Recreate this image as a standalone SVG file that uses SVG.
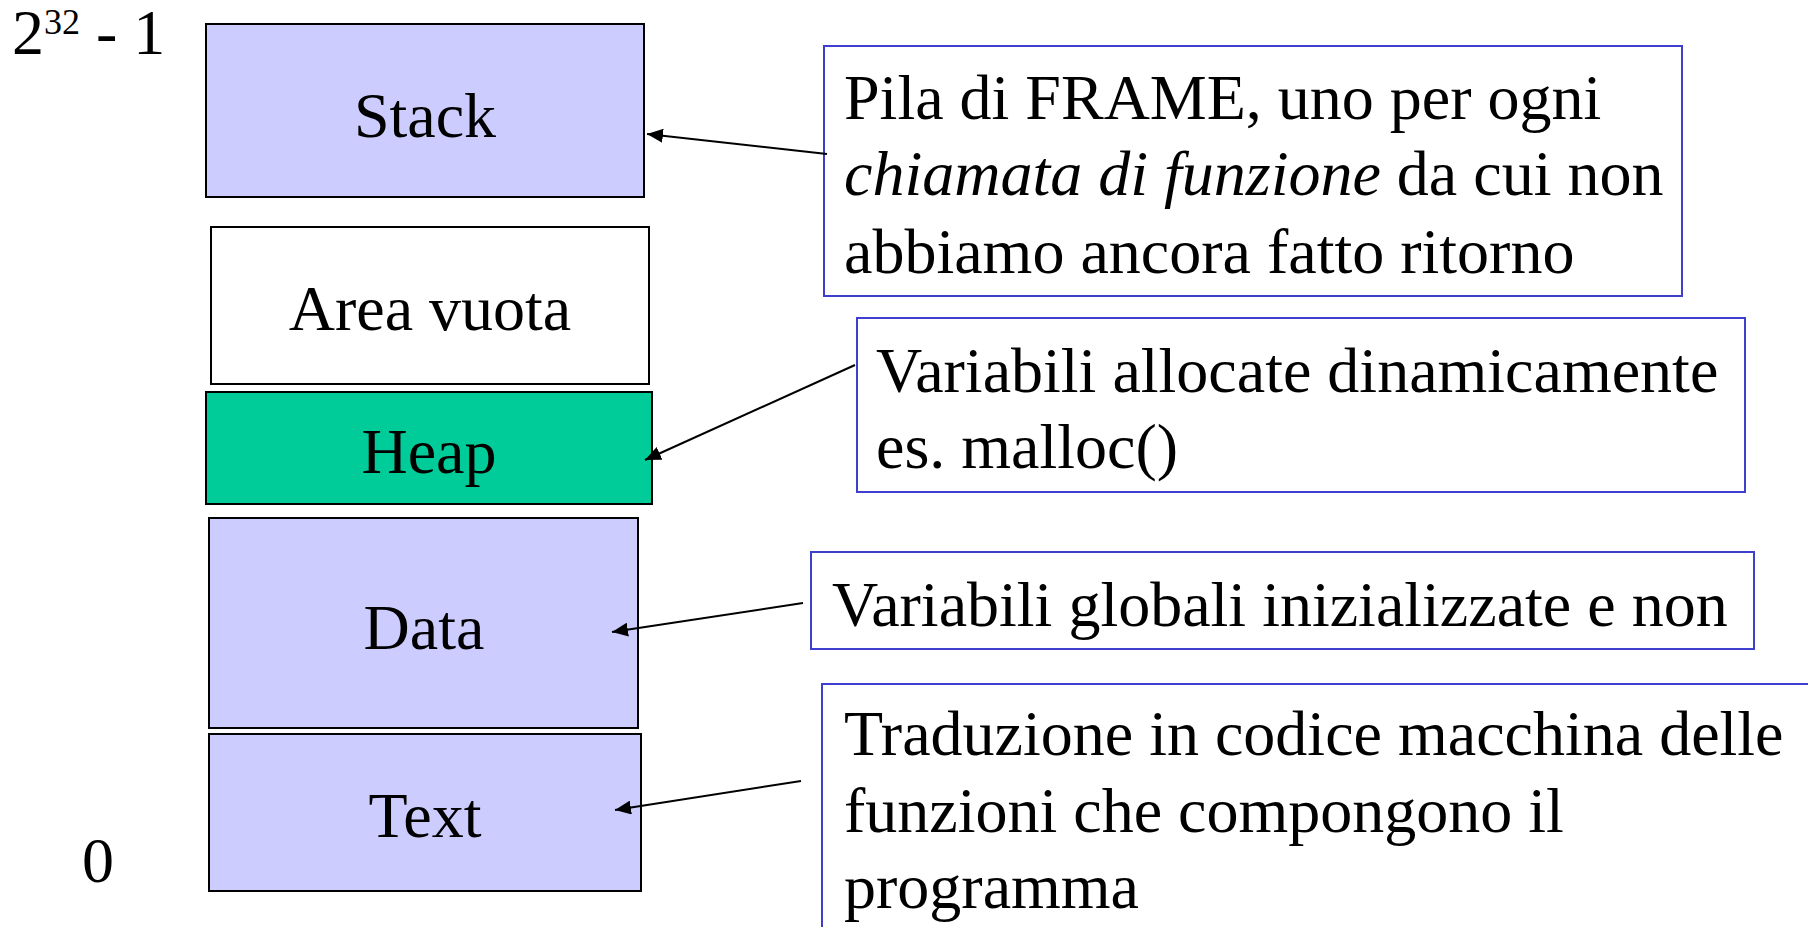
<svg xmlns="http://www.w3.org/2000/svg" width="1808" height="927" viewBox="0 0 1808 927">
<defs>
<style>
text{font-family:"Liberation Serif","Times New Roman",serif;font-size:64px;fill:#000}
.seg{stroke:#000;stroke-width:2}
.mid{text-anchor:middle}
.note{fill:#fff;stroke:#3F3FCF;stroke-width:2}
.conn{stroke:#000;stroke-width:2;fill:none;marker-end:url(#ah)}
</style>
<marker id="ah" markerUnits="userSpaceOnUse" markerWidth="18" markerHeight="14" refX="16" refY="7" orient="auto">
<path d="M0,0 L16,7 L0,14 Z" fill="#000"/>
</marker>
</defs>
<rect width="1808" height="927" fill="#fff"/>
<g id="labels">
<text x="12" y="54" font-size="60">2<tspan font-size="36" dy="-20">32</tspan><tspan dy="20"> - 1</tspan></text>
<text x="82" y="882">0</text>
</g>
<g id="stack"><rect class="seg" x="206" y="24" width="438" height="173" fill="#CCCCFF"/><text class="mid" x="425" y="137">Stack</text></g>
<g id="area-vuota"><rect class="seg" x="211" y="227" width="438" height="157" fill="#fff"/><text class="mid" x="430" y="330">Area vuota</text></g>
<g id="heap"><rect class="seg" x="206" y="392" width="446" height="112" fill="#00CC99"/><text class="mid" x="429" y="473">Heap</text></g>
<g id="data"><rect class="seg" x="209" y="518" width="429" height="210" fill="#CCCCFF"/><text class="mid" x="424" y="649">Data</text></g>
<g id="text-seg"><rect class="seg" x="209" y="734" width="432" height="157" fill="#CCCCFF"/><text class="mid" x="425" y="837">Text</text></g>
<g id="note-stack"><rect class="note" x="824" y="46" width="858" height="250"/>
<text x="844" y="119">Pila di FRAME, uno per ogni</text>
<text x="844" y="195"><tspan font-style="italic">chiamata di funzione</tspan> da cui non</text>
<text x="844" y="273">abbiamo ancora fatto ritorno</text></g>
<g id="note-heap"><rect class="note" x="857" y="318" width="888" height="174"/>
<text x="876" y="392">Variabili allocate dinamicamente</text>
<text x="876" y="468">es. malloc()</text></g>
<g id="note-data"><rect class="note" x="811" y="552" width="943" height="97"/>
<text x="832" y="626">Variabili globali inizializzate e non</text></g>
<g id="note-text"><rect class="note" x="822" y="684" width="1000" height="260"/>
<text x="844" y="755">Traduzione in codice macchina delle</text>
<text x="844" y="832">funzioni che compongono il</text>
<text x="844" y="908">programma</text></g>
<g id="connectors">
<line class="conn" x1="827" y1="154" x2="647" y2="134"/>
<line class="conn" x1="855" y1="365" x2="645" y2="460"/>
<line class="conn" x1="803" y1="603" x2="612" y2="632"/>
<line class="conn" x1="801" y1="781" x2="615" y2="810"/>
</g>
</svg>
